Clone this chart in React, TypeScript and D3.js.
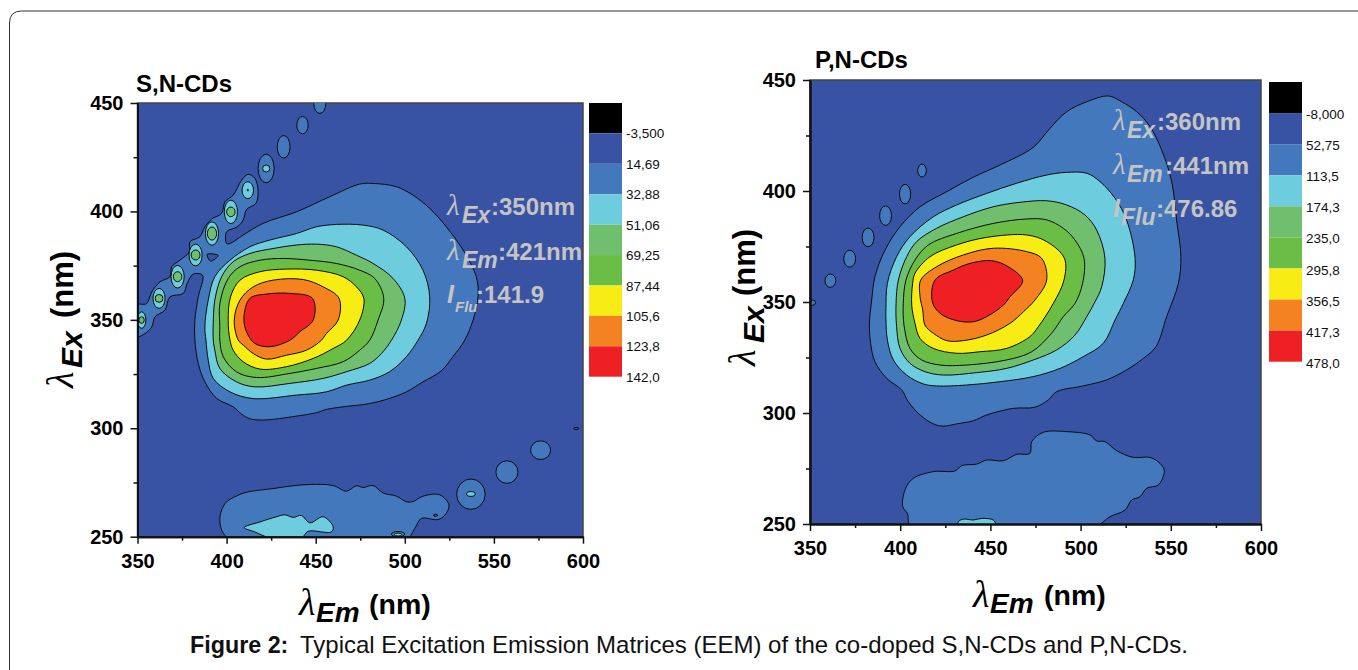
import { useEffect, useRef } from "react";
import * as d3 from "d3";

type Pt = [number, number];
// em, ex, rEm, rEx, colour level
type Island = [number, number, number, number, number];

const levelColors = ["#3953A4", "#4478BC", "#6DCCDE", "#70BF6F", "#6ABD45", "#F7EC13", "#F58220", "#EE2024"];
const xTickValues = [350, 400, 450, 500, 550, 600];
const xMinorValues = [375, 425, 475, 525, 575];
const yTickValues = [250, 300, 350, 400, 450];
const yMinorValues = [275, 325, 375, 425];

const snLegendLabels = ["-3,500", "14,69", "32,88", "51,06", "69,25", "87,44", "105,6", "123,8", "142,0"];
const pnLegendLabels = ["-8,000", "52,75", "113,5", "174,3", "235,0", "295,8", "356,5", "417,3", "478,0"];

// S,N-CDs contour outlines, in (emission nm, excitation nm)
const snOuter: Pt[] = [[349, 356.8], [355.1, 357.5], [358, 362.9], [362.6, 367.5], [368.2, 369.9], [369.2, 374.5], [373.8, 377.5], [379.1, 381.4], [379.4, 386], [385, 388.3], [387.8, 392.9], [391.6, 396.5], [397.2, 399.1], [399.1, 404.5], [403.7, 407.5], [408.4, 414.4], [412.1, 417.1], [415.9, 415.2], [417.7, 409.1], [416.4, 403.7], [411.2, 400.9], [409.3, 396], [406, 392.9], [400, 390.6], [400, 385.2], [401.9, 385.2], [409.3, 389.1], [420.5, 394.5], [439.2, 399.8], [457.9, 406.8], [474.7, 412.6], [482.2, 412.9], [495.3, 411.4], [504.6, 407.5], [514, 401.4], [523.3, 392.9], [532.7, 382.2], [540.1, 369.9], [541.1, 360.6], [538.3, 349.9], [533.6, 340.6], [527, 333], [520.5, 326.5], [510.2, 321.4], [500.9, 316.8], [491.5, 313.8], [480.3, 311.4], [465.4, 309.9], [456, 308.7], [450.4, 307.2], [439.2, 305.6], [420.5, 303.8], [413.1, 304.4], [408.4, 306.5], [403.7, 309.9], [394.4, 313.8], [387.8, 321.4], [384.1, 329.9], [382.2, 340.7], [382.2, 349.9], [384.1, 360.6], [386.5, 370.6], [381.3, 371.1], [377.9, 366.8], [375.7, 362.2], [368.2, 360.6], [365.4, 354.5], [359.8, 351.4], [358, 346.8], [354.2, 343.7], [349, 342.2]];
const snLevel2: Pt[] = [[387.8, 346.8], [389.7, 359.1], [393.4, 369.9], [401.9, 377.5], [413.1, 383.7], [424.3, 386.8], [439.2, 389.8], [450.4, 392.9], [461.6, 394], [476.6, 393.7], [487.8, 391.4], [500.9, 383.7], [510.2, 372.9], [514, 360.6], [512.1, 348.3], [507.4, 340.6], [500.9, 333], [491.5, 326.1], [480.3, 322.2], [467.3, 319.9], [456, 316.8], [439.2, 315.3], [414.9, 313.7], [401.9, 316.8], [392.5, 323], [389.7, 331.4], [388.4, 340.7]];
const snLevel3: Pt[] = [[392.5, 348.3], [393.4, 359.1], [397.2, 369.9], [403.7, 376.8], [413.1, 380.6], [426.1, 382.9], [439.2, 384.5], [450.4, 384.9], [461.6, 383.7], [472.9, 379.8], [482.2, 376], [493.4, 369.1], [500, 359.9], [498.1, 349.9], [492.5, 340.6], [486.9, 334.5], [480.3, 329.9], [467.3, 326.1], [454.2, 323], [435.5, 320.7], [415.9, 319.1], [405.6, 321.4], [396.2, 327.6], [393.4, 336], [392.5, 340.7]];
const snLevel4: Pt[] = [[396.2, 346.8], [396.2, 357.5], [400.9, 369.1], [407.5, 374.5], [418.7, 377.5], [431.8, 378.3], [446.7, 377.5], [461.6, 376], [474.7, 372.9], [483.1, 369.1], [488.2, 359.9], [485, 349.9], [480.3, 340.6], [474.7, 336], [465.4, 330.7], [450.4, 327.6], [435.5, 325.3], [416.8, 323.4], [405.6, 326], [398.1, 333], [396.2, 340.7]];
const snLevel5: Pt[] = [[400.9, 349.9], [402.2, 360.6], [407.5, 368.3], [418.7, 372.2], [433.6, 373.4], [450.4, 372.9], [465.4, 369.9], [472.9, 365.2], [477, 359.9], [474.7, 349.9], [467.3, 340.6], [459.8, 336.8], [448.6, 332.2], [433.6, 328.4], [418.7, 327.3], [409.3, 330.7], [403.7, 336], [401.9, 340.7]];
const snLevel6: Pt[] = [[404.3, 349.9], [407.5, 359.1], [414.9, 365.2], [426.1, 368.3], [443, 368.6], [454.2, 365.2], [463.1, 359.9], [462.6, 349.9], [456, 343.7], [453.2, 340.6], [444.8, 336], [433.6, 333.7], [422.4, 331.9], [414.9, 334.5], [409.3, 338.4], [406.5, 340.7]];
const snLevel7: Pt[] = [[409.7, 350.6], [413.1, 359.9], [422.4, 361.9], [435.5, 362.2], [448.2, 359.9], [448.6, 349.9], [441.1, 344.5], [435.5, 340.6], [424.3, 337.6], [415.9, 339.1], [411.6, 343.7]];
const snHole: Pt[] = [[389.1, 380.2], [395.3, 379.7], [391, 377.1]];
const snBottom: Pt[] = [[401.5, 249], [396.2, 256.8], [399.1, 265.3], [405.6, 268.8], [411.2, 270.5], [426.1, 272.2], [435.5, 273.3], [446.7, 274.1], [459.8, 273.6], [467.3, 271], [472.9, 273.5], [476.6, 272.7], [482.2, 273.6], [487.8, 270.2], [495.3, 268.7], [500.9, 266.1], [504.6, 266.2], [510.2, 268.7], [519.6, 269.3], [524.8, 264.5], [522.4, 259.9], [518.6, 257.9], [509.3, 258.4], [505.6, 253.8], [500.9, 249]];
const snBottomInner: Pt[] = [[409.9, 254.2], [418.7, 256.8], [428, 259.2], [432.7, 260.1], [437.4, 258.9], [442, 259.8], [446.7, 256.4], [454.2, 259.2], [459.8, 254.6], [458.8, 252.2], [445.8, 252.5], [442, 249.5], [424.3, 249.5], [415.9, 252.2]];
const snIslands: Island[] = [
  [352.3, 349.9, 2.4, 3.8, 2], [352.3, 349.9, 1.5, 1.5, 3],
  [362.1, 359.9, 3.4, 4.6, 2], [362.1, 359.9, 2.2, 1.8, 3],
  [372.5, 369.9, 3.7, 5.2, 2], [372.5, 369.9, 2.4, 2.3, 3],
  [382.6, 379.9, 3.7, 5, 2], [382.6, 379.9, 2.5, 2.3, 3],
  [391.8, 389.8, 3.7, 5.4, 2], [391.8, 389.8, 2.6, 3, 3],
  [402.4, 399.8, 3.7, 5.4, 2], [402.4, 399.8, 2.4, 2.2, 3],
  [411.9, 409.8, 3.2, 3.9, 2], [411.9, 409.8, 0.4, 0.3, 0],
  [422.2, 419.8, 4.5, 6.6, 1], [422.2, 419.8, 2, 1.6, 2],
  [432, 429.8, 3.6, 5.2, 1],
  [442.6, 439.8, 3.2, 4, 1],
  [452.3, 449.8, 3.4, 4.6, 1],
  [496.2, 251.2, 3.7, 1.2, 1], [496.2, 251, 2, 0.7, 2],
  [517.3, 259.9, 1.2, 0.5, 0],
  [596.2, 299.9, 1.5, 0.5, 0],
  [537.1, 269.6, 8, 7, 1], [537.1, 269.7, 2.4, 1.1, 2],
  [557.3, 279.8, 6.2, 5.2, 1],
  [576.2, 289.9, 5.6, 4.3, 1],
];

// P,N-CDs contour outlines
const pnOuter: Pt[] = [[382.9, 339.6], [384.2, 350.9], [386, 361.4], [391.6, 373.4], [399.9, 383.9], [411, 392.9], [425.8, 399.7], [440.5, 406.2], [455.3, 411.7], [473.8, 419.7], [483, 428.2], [492.3, 435.7], [503.4, 440.2], [515.4, 442.8], [522.8, 440.2], [531.1, 435.7], [538.5, 429], [544.9, 418.5], [550.5, 404.2], [553.2, 386.9], [555.6, 370.4], [554.2, 358.4], [547.7, 343.4], [541.8, 329.9], [534.8, 324.6], [525.5, 319.4], [514.4, 314.9], [501.5, 312.2], [486.7, 309.6], [482.1, 305.9], [474.7, 302.6], [462.7, 302.1], [447.9, 299.1], [440.5, 296.5], [431.3, 295.1], [423.9, 294.1], [418.4, 295.1], [411, 299.1], [404.5, 305.1], [400.8, 310.4], [392.5, 315.6], [386, 323.1], [383.6, 331.4]];
const pnLevel2: Pt[] = [[392.1, 347.1], [392.9, 358.4], [398, 370.4], [405.4, 379.4], [418.4, 388.4], [431.3, 393.7], [447.9, 398.9], [464.6, 403.5], [481.2, 407.2], [492.3, 408.4], [503.4, 408], [510.8, 404.2], [519.1, 396.7], [525.5, 386.9], [530.2, 369.7], [529.2, 359.9], [523.7, 349.4], [519.1, 341.9], [512.6, 331.4], [501.5, 325.4], [488.6, 320.1], [473.8, 316.4], [455.3, 314.1], [436.8, 312.6], [420.2, 312.2], [412.8, 313.1], [403.6, 317.1], [396.2, 323.9], [392.9, 332.9], [392.1, 341.9]];
const pnLevel3: Pt[] = [[397.7, 349.4], [399, 359.9], [403.6, 370.4], [409.1, 377.2], [420.2, 383.2], [435, 388.4], [451.6, 392.9], [466.4, 394.9], [481.2, 395.6], [492.3, 393.7], [502.4, 389.2], [508.9, 382.4], [513.5, 369.7], [511.7, 356.9], [508, 350.1], [503.4, 343.4], [496.9, 335.1], [486.7, 328.4], [473.8, 323.9], [459, 320.1], [442.4, 318.2], [423.9, 317.1], [413.8, 318.6], [405.4, 322.4], [399.9, 329.1], [398, 338.9]];
const pnLevel4: Pt[] = [[401.7, 349.4], [403.2, 359.9], [408.2, 368.9], [415.6, 375.7], [431.3, 380.9], [451.6, 385.4], [470.1, 387.4], [481.2, 387], [490.4, 383.2], [496.9, 377.9], [501.9, 369.7], [501.1, 358.4], [496.9, 349.4], [490.4, 343.4], [483.9, 335.9], [472.9, 327.6], [459, 323.9], [436.8, 321.6], [422.1, 321.6], [411.9, 323.9], [405.4, 329.1], [402.1, 339.6]];
const pnLevel5: Pt[] = [[406.9, 358.4], [408.2, 362.9], [416.5, 370.4], [431.3, 375.7], [447.9, 379.1], [470.1, 380.2], [481.2, 377.2], [491, 369.7], [490.8, 359.9], [484.9, 349.4], [476.6, 338.9], [471.9, 334.4], [459, 329.1], [444.2, 327.6], [431.3, 326.9], [418.4, 329.1], [411, 333.6], [408.2, 340.4], [406.4, 348.6]];
const pnLevel6: Pt[] = [[411, 352.4], [411.4, 359.9], [420.2, 365.9], [435, 371.2], [451.6, 374.2], [470.1, 372.7], [478.4, 369.7], [481.2, 359.9], [474.7, 350.9], [468.3, 345.6], [460.9, 340.4], [447.9, 335.1], [435, 332.6], [425.8, 332.6], [418.4, 335.9], [413.7, 339.6], [412.5, 346.4]];
const pnLevel7: Pt[] = [[417.8, 350.1], [419.3, 359.9], [429.5, 364.4], [438.7, 367.4], [450.7, 368.6], [459.9, 365.9], [467.9, 359.6], [460.9, 352.4], [457.2, 348.6], [447.9, 343.4], [440.5, 341.1], [431.3, 341.6], [422.1, 344.9]];
const pnBottom: Pt[] = [[406, 249], [404, 254.8], [401.4, 257.8], [403, 266.1], [407.3, 270.6], [418.4, 273.6], [430.4, 273.9], [434.1, 276.3], [442.4, 277], [447.9, 278.8], [457.2, 278.5], [464.6, 281.4], [471.9, 281.8], [472.9, 287.1], [479.3, 291.3], [492.3, 291.6], [505.2, 290.1], [508.9, 287.4], [513.5, 287.1], [520, 283], [529.2, 280], [538.5, 280], [544, 277.3], [546.4, 274], [543.1, 267.6], [536.6, 266.1], [532.9, 262.3], [528.3, 260.8], [524.6, 256.3], [516.3, 253.3], [508, 249]];
const pnBottomInner: Pt[] = [[432.2, 251], [435, 252.2], [440.5, 251.8], [445.2, 252.5], [451.6, 251.8], [452.9, 249.5], [432.2, 249.5]];
const pnIslands: Island[] = [
  [351.3, 349.7, 1.8, 1.2, 1],
  [361.3, 359.6, 3, 3, 1],
  [372, 369.5, 3.3, 3.8, 1],
  [382.2, 379.1, 3.3, 4.2, 1],
  [391.9, 388.9, 3.3, 4.4, 1],
  [402.7, 398.6, 3.1, 4.4, 1],
  [412.1, 409.2, 2.4, 2.9, 1],
];

const SANS = "'Liberation Sans', Arial, sans-serif";
const SERIF = "'Liberation Serif', serif";
const GREY = "#C4C4C4";

const contourLine = d3.line().curve(d3.curveCatmullRomClosed.alpha(0.5));

function Lambda({ x, y, size, fill = "#000" }: any) {
  return (
    <text x={x} y={y} fontFamily={SERIF} fontStyle="italic" fontWeight="normal" fontSize={size} fill={fill}>
      λ
    </text>
  );
}

function Note({ lx, ly, sub, sx, sy, subSize, rest, rx, ry, isI }: any) {
  return (
    <g fill={GREY} fontFamily={SANS} fontWeight="bold">
      {isI ? (
        <text x={lx} y={ly} fontStyle="italic" fontFamily={SANS} fontSize={25}>
          I
        </text>
      ) : (
        <Lambda x={lx} y={ly} size={29} fill={GREY} />
      )}
      <text x={sx} y={sy} fontStyle="italic" fontSize={subSize}>
        {sub}
      </text>
      <text x={rx} y={ry} fontSize={24}>
        {rest}
      </text>
    </g>
  );
}

function Panel({ box, title, titlePos, contours, hole, bottom, bottomInner, islands, legend, legendBox, legendLabelYs, id, tickPad }: any) {
  const axisBottomRef = useRef<SVGGElement>(null);
  const axisLeftRef = useRef<SVGGElement>(null);
  const x = d3.scaleLinear().domain([350, 600]).range([box.left, box.right]);
  const y = d3.scaleLinear().domain([250, 450]).range([box.bottom, box.top]);
  const toPath = (pts: Pt[]) => contourLine(pts.map((p) => [x(p[0]), y(p[1])] as Pt)) as string;
  const legendY = d3.scaleLinear().domain([0, 9]).range(legendBox.y);

  useEffect(() => {
    const bottomG = d3.select(axisBottomRef.current);
    bottomG.selectAll("*").remove();
    bottomG.append("g").call(d3.axisBottom(x).tickValues(xMinorValues).tickSize(4).tickSizeOuter(0).tickFormat(() => ""));
    bottomG.append("g").call(d3.axisBottom(x).tickValues(xTickValues).tickSize(7).tickSizeOuter(0).tickPadding(tickPad.x));
    const leftG = d3.select(axisLeftRef.current);
    leftG.selectAll("*").remove();
    leftG.append("g").call(d3.axisLeft(y).tickValues(yMinorValues).tickSize(4).tickSizeOuter(0).tickFormat(() => ""));
    leftG.append("g").call(d3.axisLeft(y).tickValues(yTickValues).tickSize(7).tickSizeOuter(0).tickPadding(tickPad.y));
    [bottomG, leftG].forEach((g) => {
      g.selectAll("path.domain").attr("stroke", "#111").attr("stroke-width", 2);
      g.selectAll("line").attr("stroke", "#111").attr("stroke-width", 1.5);
      g.selectAll("text").attr("font-family", SANS).attr("font-weight", "bold").attr("font-size", 20).attr("fill", "#000");
    });
  }, []);

  return (
    <g>
      <clipPath id={id}>
        <rect x={box.left} y={box.top} width={box.right - box.left} height={box.bottom - box.top} />
      </clipPath>
      <rect x={box.left} y={box.top} width={box.right - box.left} height={box.bottom - box.top} fill={levelColors[0]} stroke="#444" strokeWidth={1.5} />
      <g clipPath={`url(#${id})`} stroke="#0c0c0c" strokeWidth={1}>
        {contours.map((c: Pt[], i: number) => (
          <path key={i} d={toPath(c)} fill={levelColors[i + 1]} />
        ))}
        {hole && <path d={toPath(hole)} fill={levelColors[0]} />}
        <path d={toPath(bottom)} fill={levelColors[1]} />
        <path d={toPath(bottomInner)} fill={levelColors[2]} />
        {islands.map((d: Island, i: number) => (
          <ellipse
            key={i}
            cx={x(d[0])}
            cy={y(d[1])}
            rx={x(d[0] + d[2]) - x(d[0])}
            ry={y(d[1]) - y(d[1] + d[3])}
            fill={levelColors[d[4]]}
          />
        ))}
      </g>
      <g ref={axisBottomRef} transform={`translate(0,${box.bottom})`} />
      <g ref={axisLeftRef} transform={`translate(${box.left},0)`} />
      <text x={titlePos[0]} y={titlePos[1]} fontFamily={SANS} fontWeight="bold" fontSize={24}>
        {title}
      </text>
      {legend.map((label: string, i: number) => (
        <g key={label}>
          <rect
            x={legendBox.x}
            y={legendY(i)}
            width={legendBox.w}
            height={legendY(i + 1) - legendY(i)}
            fill={i === 0 ? "#000" : levelColors[i - 1]}
          />
          <text x={legendBox.x + legendBox.w + 4} y={legendLabelYs[i]} dominantBaseline="middle" fontFamily={SANS} fontSize={13.5} fill="#111">
            {label}
          </text>
        </g>
      ))}
    </g>
  );
}

export default function App() {
  return (
    <svg width={1358} height={670} style={{ position: "absolute", left: 0, top: 0, background: "#fff" }}>
      <path d="M9.5,670 V23 Q9.5,11 21.5,11 H1358" fill="none" stroke="#333" strokeWidth={1} />

      <Panel
        id="sn-clip"
        box={{ left: 137.5, right: 583, top: 103, bottom: 536.7 }}
        tickPad={{ x: 10, y: 7 }}
        title="S,N-CDs"
        titlePos={[136, 92]}
        contours={[snOuter, snLevel2, snLevel3, snLevel4, snLevel5, snLevel6, snLevel7]}
        hole={snHole}
        bottom={snBottom}
        bottomInner={snBottomInner}
        islands={snIslands}
        legend={snLegendLabels}
        legendBox={{ x: 589, w: 33, y: [103, 376.7] }}
        legendLabelYs={[134, 165, 195, 226, 256, 287, 317, 347, 378]}
      />
      <Panel
        id="pn-clip"
        box={{ left: 810, right: 1261, top: 80, bottom: 524 }}
        tickPad={{ x: 10, y: 7 }}
        title="P,N-CDs"
        titlePos={[815, 68]}
        contours={[pnOuter, pnLevel2, pnLevel3, pnLevel4, pnLevel5, pnLevel6, pnLevel7]}
        bottom={pnBottom}
        bottomInner={pnBottomInner}
        islands={pnIslands}
        legend={pnLegendLabels}
        legendBox={{ x: 1269, w: 33, y: [82, 361.7] }}
        legendLabelYs={[115, 146, 177, 208, 239, 271, 302, 333, 364]}
      />

      {/* peak notes */}
      <Note lx={447} ly={215} sub="Ex" sx={462} sy={223} subSize={23} rest=":350nm" rx={491} ry={215} />
      <Note lx={447} ly={260} sub="Em" sx={462} sy={268} subSize={23} rest=":421nm" rx={498} ry={260} />
      <Note isI lx={447} ly={303} sub="Flu" sx={455} sy={312} subSize={15} rest=":141.9" rx={476} ry={303} />
      <Note lx={1113} ly={130} sub="Ex" sx={1127} sy={138} subSize={23} rest=":360nm" rx={1157} ry={130} />
      <Note lx={1113} ly={174} sub="Em" sx={1127} sy={182} subSize={23} rest=":441nm" rx={1165} ry={174} />
      <Note isI lx={1113} ly={217} sub="Flu" sx={1121} sy={225} subSize={23} rest=":476.86" rx={1156} ry={217} />

      {/* x titles */}
      <g fontFamily={SANS} fontWeight="bold">
        <Lambda x={299} y={615} size={38} />
        <text x={316} y={622} fontStyle="italic" fontSize={28}>Em</text>
        <text x={369} y={614} fontSize={28.5}>(nm)</text>
        <Lambda x={973} y={607} size={38} />
        <text x={990} y={613} fontStyle="italic" fontSize={28}>Em</text>
        <text x={1044} y={605} fontSize={28.5}>(nm)</text>
      </g>

      {/* y titles */}
      <g fontFamily={SANS} fontWeight="bold">
        <g transform="translate(73,388) rotate(-90)">
          <Lambda x={0} y={0} size={38} />
        </g>
        <text transform="translate(82,368) rotate(-90)" fontStyle="italic" fontSize={30}>Ex</text>
        <text transform="translate(73,318) rotate(-90)" fontSize={31}>(nm)</text>
        <g transform="translate(755,366) rotate(-90)">
          <Lambda x={0} y={0} size={38} />
        </g>
        <text transform="translate(764,343) rotate(-90)" fontStyle="italic" fontSize={30}>Ex</text>
        <text transform="translate(755,296) rotate(-90)" fontSize={31}>(nm)</text>
      </g>

      <text x={190} y={653} fontFamily={SANS} fontSize={23.3} fontWeight="bold" fill="#111">
        Figure 2:
      </text>
      <text x={300} y={653} fontFamily={SANS} fontSize={24} fill="#111">
        Typical Excitation Emission Matrices (EEM) of the co-doped S,N-CDs and P,N-CDs.
      </text>
    </svg>
  );
}
